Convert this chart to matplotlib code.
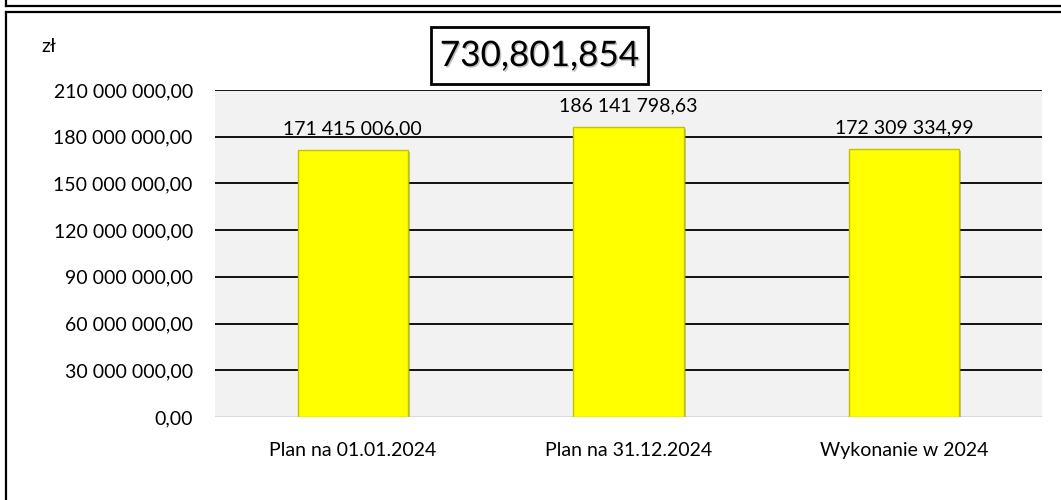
import matplotlib
matplotlib.use("Agg")
import matplotlib.pyplot as plt
from matplotlib.lines import Line2D
from matplotlib.patches import Rectangle
import matplotlib.patheffects as pe
from matplotlib.ticker import FuncFormatter

categories = ["Plan na 01.01.2024", "Plan na 31.12.2024", "Wykonanie w 2024"]
values = [171415006.00, 186141798.63, 172309334.99]
total_value = 730801854
y_ticks = [0, 30e6, 60e6, 90e6, 120e6, 150e6, 180e6, 210e6]
unit_label = "zł"

plt.rcParams['font.family'] = ['Lato', 'DejaVu Sans']

def pl_fmt(v, pos=None):
    return f"{v:,.2f}".replace(",", " ").replace(".", ",")

W, H = 1061, 500
fig = plt.figure(figsize=(W / 100, H / 100), dpi=100)
fig.patch.set_facecolor("white")

ax = fig.add_axes([215 / W, 1 - 417 / H, (1042 - 215) / W, (417 - 90) / H])
ax.set_facecolor("#f2f2f2")

x = list(range(len(categories)))
bars = ax.bar(x, values, width=0.4, color="#ffff00", edgecolor="#c2c200",
              linewidth=1.0, zorder=3)
for b in bars:
    b.set_path_effects([pe.SimplePatchShadow(offset=(1.5, -1.5), alpha=0.3), pe.Normal()])

ax.set_xlim(-0.5, len(categories) - 0.5)
ax.set_ylim(0, 210e6)
ax.set_yticks(y_ticks)
ax.yaxis.set_major_formatter(FuncFormatter(pl_fmt))
ax.set_xticks(x)
ax.set_xticklabels(categories)

for yv in y_ticks[1:]:
    ax.axhline(yv, color="black", linewidth=1.3, zorder=1)
ax.axhline(0, color="#d9d9d9", linewidth=2.0, zorder=2)

for s in ax.spines.values():
    s.set_visible(False)
ax.tick_params(axis="both", length=0, labelsize=14, colors="black")
ax.tick_params(axis="y", pad=16)
ax.tick_params(axis="x", pad=18)

for xi, v in zip(x, values):
    ax.annotate(pl_fmt(v), (xi, v), xytext=(0, 9), textcoords="offset points",
                ha="center", va="bottom", fontsize=14, color="black", zorder=4)

# unit label
fig.text(49 / W, 1 - 47 / H, unit_label, ha="center", va="center", fontsize=14)

# total box
fig.patches.append(Rectangle((431 / W, 1 - 84 / H), (648 - 431) / W, (84 - 27) / H,
                             transform=fig.transFigure, fill=False,
                             edgecolor="black", linewidth=2.0))
fig.text(539.5 / W, 1 - 56 / H, f"{total_value:,}", ha="center", va="center",
         fontsize=25.3, color="black",
         path_effects=[pe.withSimplePatchShadow(offset=(1, -1), alpha=0.25)])

# frame lines
for yy in (6, 12):
    fig.add_artist(Line2D([6 / W, 1], [1 - yy / H, 1 - yy / H], transform=fig.transFigure,
                          color="black", linewidth=1.6))
fig.add_artist(Line2D([6 / W, 6 / W], [1, 1 - 6 / H], transform=fig.transFigure,
                      color="black", linewidth=1.6))
fig.add_artist(Line2D([6 / W, 6 / W], [1 - 12 / H, 0], transform=fig.transFigure,
                      color="black", linewidth=1.6))

fig.savefig("out.png", dpi=100)
